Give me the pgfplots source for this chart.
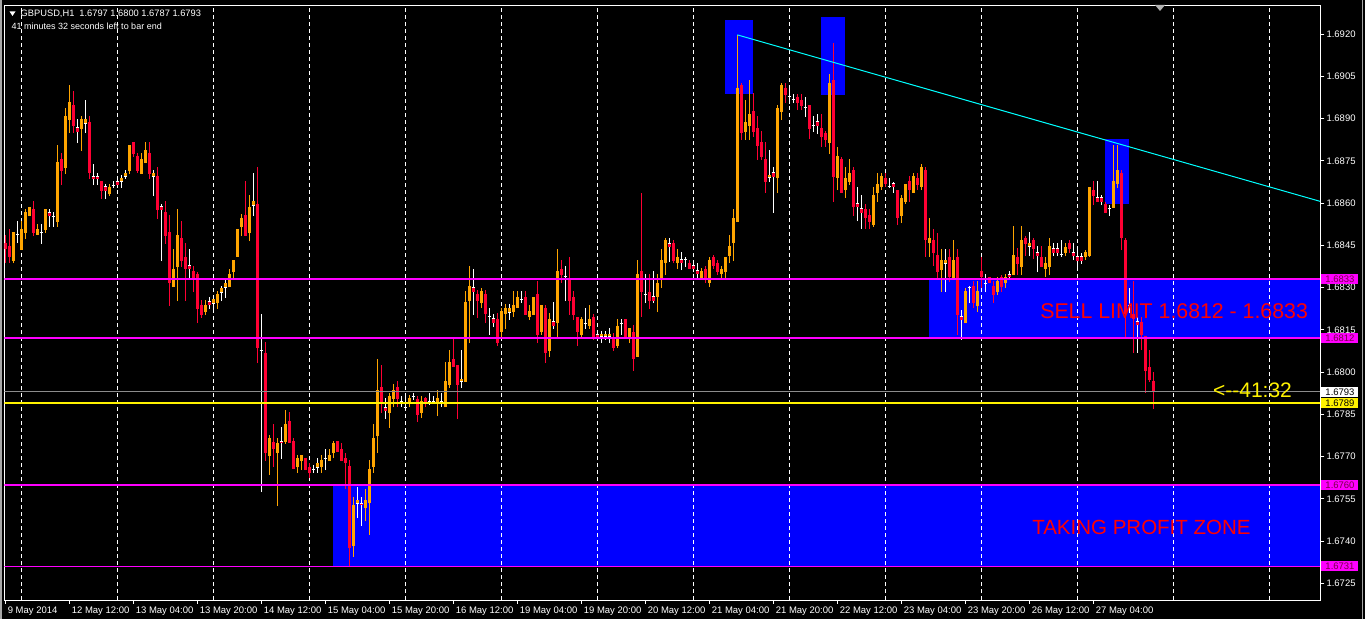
\documentclass[border=0pt]{standalone}
\usepackage{pgfplots}
\pgfplotsset{compat=1.18}
\usepackage{pgfplotstable}
\usepackage{fontspec}
\setmainfont{Liberation Sans}

\definecolor{bull}{RGB}{255,165,0}
\definecolor{bear}{RGB}{255,0,51}
\definecolor{zone}{RGB}{0,0,255}
\definecolor{lvl}{RGB}{255,0,255}
\definecolor{lvltext}{RGB}{120,0,70}
\definecolor{trend}{RGB}{0,255,255}
\definecolor{bidgray}{RGB}{140,140,140}

% GBPUSD H1 candles: bar index, open, high, low, close
\pgfplotstableread{
i o h l c
0 1.68458 1.68487 1.68387 1.68437
1 1.68448 1.68508 1.68387 1.68409
2 1.68394 1.68497 1.68387 1.68497
3 1.68487 1.68536 1.68458 1.68487
4 1.68433 1.68536 1.68433 1.68508
5 1.68494 1.68579 1.68473 1.68568
6 1.68554 1.68586 1.68554 1.68586
7 1.68579 1.68607 1.68483 1.68494
8 1.68487 1.68526 1.68487 1.68508
9 1.68497 1.68526 1.68455 1.68497
10 1.68504 1.68579 1.68494 1.68579
11 1.68568 1.68579 1.68515 1.68554
12 1.68551 1.68568 1.68515 1.68551
13 1.68533 1.68806 1.68515 1.68746
14 1.68757 1.68778 1.68664 1.68714
15 1.68725 1.68938 1.68703 1.68909
16 1.68895 1.69019 1.68849 1.68959
17 1.68948 1.68998 1.68849 1.68874
18 1.68867 1.68899 1.68813 1.68852
19 1.68863 1.68909 1.68785 1.68899
20 1.68884 1.68966 1.68849 1.68899
21 1.68888 1.68909 1.68686 1.68707
22 1.68696 1.68739 1.68664 1.68686
23 1.68696 1.68707 1.68664 1.68686
24 1.68678 1.68678 1.68615 1.68643
25 1.68657 1.68668 1.68615 1.68643
26 1.68632 1.68668 1.68625 1.68657
27 1.68664 1.68678 1.68654 1.68664
28 1.68678 1.68693 1.68654 1.68664
29 1.68675 1.68700 1.68654 1.68689
30 1.68693 1.68717 1.68686 1.68707
31 1.68714 1.68806 1.68703 1.68806
32 1.68817 1.68817 1.68764 1.68774
33 1.68767 1.68778 1.68707 1.68714
34 1.68703 1.68778 1.68703 1.68757
35 1.68742 1.68817 1.68742 1.68788
36 1.68778 1.68817 1.68686 1.68703
37 1.68693 1.68717 1.68625 1.68707
38 1.68696 1.68728 1.68544 1.68575
39 1.68586 1.68597 1.68394 1.68575
40 1.68568 1.68607 1.68455 1.68483
41 1.68497 1.68558 1.68235 1.68316
42 1.68302 1.68437 1.68302 1.68366
43 1.68373 1.68579 1.68252 1.68487
44 1.68476 1.68536 1.68373 1.68394
45 1.68409 1.68458 1.68252 1.68366
46 1.68377 1.68437 1.68334 1.68366
47 1.68359 1.68377 1.68284 1.68334
48 1.68348 1.68355 1.68174 1.68224
49 1.68238 1.68256 1.68192 1.68203
50 1.68213 1.68256 1.68203 1.68238
51 1.68249 1.68267 1.68224 1.68238
52 1.68245 1.68274 1.68224 1.68260
53 1.68245 1.68288 1.68224 1.68277
54 1.68284 1.68306 1.68252 1.68299
55 1.68302 1.68331 1.68263 1.68316
56 1.68302 1.68366 1.68302 1.68348
57 1.68355 1.68398 1.68331 1.68398
58 1.68409 1.68508 1.68409 1.68508
59 1.68515 1.68561 1.68483 1.68547
60 1.68558 1.68678 1.68483 1.68483
61 1.68494 1.68629 1.68465 1.68586
62 1.68593 1.68707 1.68554 1.68607
63 1.68597 1.68728 1.68032 1.68086
64 1.68078 1.68206 1.67574 1.68078
65 1.68068 1.68107 1.67684 1.67713
66 1.67702 1.67777 1.67635 1.67766
67 1.67752 1.67816 1.67663 1.67727
68 1.67713 1.67766 1.67525 1.67748
69 1.67752 1.67805 1.67692 1.67748
70 1.67752 1.67865 1.67745 1.67816
71 1.67826 1.67858 1.67748 1.67748
72 1.67755 1.67766 1.67656 1.67656
73 1.67663 1.67706 1.67642 1.67695
74 1.67684 1.67706 1.67652 1.67706
75 1.67695 1.67695 1.67652 1.67652
76 1.67663 1.67677 1.67624 1.67642
77 1.67656 1.67670 1.67642 1.67656
78 1.67663 1.67695 1.67642 1.67677
79 1.67663 1.67706 1.67642 1.67688
80 1.67695 1.67727 1.67652 1.67695
81 1.67684 1.67727 1.67684 1.67706
82 1.67713 1.67755 1.67695 1.67748
83 1.67755 1.67755 1.67716 1.67716
84 1.67727 1.67748 1.67684 1.67684
85 1.67695 1.67713 1.67585 1.67677
86 1.67667 1.67688 1.67308 1.67376
87 1.67383 1.67557 1.67344 1.67528
88 1.67535 1.67592 1.67482 1.67546
89 1.67535 1.67557 1.67454 1.67528
90 1.67518 1.67585 1.67471 1.67546
91 1.67535 1.67688 1.67422 1.67656
92 1.67663 1.67816 1.67642 1.67766
93 1.67773 1.68047 1.67713 1.67936
94 1.67947 1.68025 1.67855 1.67894
95 1.67876 1.67908 1.67834 1.67862
96 1.67855 1.67926 1.67802 1.67915
97 1.67905 1.67958 1.67876 1.67936
98 1.67947 1.67968 1.67876 1.67905
99 1.67897 1.67915 1.67876 1.67890
100 1.67876 1.67912 1.67865 1.67876
101 1.67890 1.67919 1.67876 1.67908
102 1.67912 1.67926 1.67901 1.67912
103 1.67905 1.67915 1.67823 1.67848
104 1.67855 1.67915 1.67837 1.67897
105 1.67908 1.67912 1.67876 1.67890
106 1.67897 1.67926 1.67883 1.67890
107 1.67897 1.67915 1.67887 1.67897
108 1.67887 1.67936 1.67844 1.67908
109 1.67897 1.67926 1.67876 1.67887
110 1.67876 1.68036 1.67876 1.67968
111 1.67954 1.68078 1.67944 1.68036
112 1.68047 1.68121 1.68018 1.68018
113 1.68025 1.68025 1.67834 1.67954
114 1.67965 1.68078 1.67944 1.67976
115 1.67965 1.68288 1.67965 1.68249
116 1.68252 1.68377 1.68103 1.68306
117 1.68299 1.68366 1.68203 1.68284
118 1.68277 1.68291 1.68192 1.68252
119 1.68245 1.68299 1.68228 1.68288
120 1.68277 1.68291 1.68174 1.68206
121 1.68196 1.68228 1.68132 1.68196
122 1.68189 1.68206 1.68160 1.68174
123 1.68189 1.68210 1.68093 1.68103
124 1.68142 1.68228 1.68125 1.68217
125 1.68206 1.68242 1.68153 1.68228
126 1.68213 1.68242 1.68185 1.68228
127 1.68213 1.68288 1.68196 1.68238
128 1.68228 1.68288 1.68228 1.68267
129 1.68256 1.68288 1.68245 1.68256
130 1.68267 1.68288 1.68203 1.68203
131 1.68196 1.68238 1.68185 1.68217
132 1.68203 1.68267 1.68203 1.68267
133 1.68277 1.68323 1.68103 1.68132
134 1.68142 1.68238 1.68132 1.68238
135 1.68228 1.68238 1.68032 1.68068
136 1.68075 1.68210 1.68054 1.68189
137 1.68178 1.68249 1.68153 1.68164
138 1.68174 1.68437 1.68125 1.68359
139 1.68366 1.68398 1.68316 1.68345
140 1.68338 1.68377 1.68252 1.68338
141 1.68327 1.68409 1.68203 1.68252
142 1.68267 1.68288 1.68185 1.68203
143 1.68196 1.68196 1.68093 1.68142
144 1.68132 1.68196 1.68125 1.68189
145 1.68174 1.68228 1.68153 1.68174
146 1.68164 1.68238 1.68153 1.68189
147 1.68196 1.68206 1.68114 1.68125
148 1.68135 1.68139 1.68114 1.68125
149 1.68125 1.68146 1.68103 1.68135
150 1.68125 1.68146 1.68114 1.68135
151 1.68125 1.68157 1.68103 1.68135
152 1.68125 1.68139 1.68075 1.68086
153 1.68093 1.68189 1.68086 1.68164
154 1.68174 1.68189 1.68132 1.68174
155 1.68189 1.68189 1.68125 1.68125
156 1.68125 1.68157 1.68103 1.68157
157 1.68142 1.68167 1.68004 1.68047
158 1.68054 1.68398 1.68054 1.68348
159 1.68359 1.68636 1.68196 1.68284
160 1.68277 1.68348 1.68245 1.68277
161 1.68284 1.68348 1.68224 1.68252
162 1.68267 1.68359 1.68245 1.68252
163 1.68267 1.68348 1.68213 1.68316
164 1.68334 1.68437 1.68299 1.68398
165 1.68387 1.68476 1.68345 1.68469
166 1.68458 1.68476 1.68391 1.68444
167 1.68458 1.68469 1.68387 1.68394
168 1.68387 1.68437 1.68366 1.68409
169 1.68398 1.68426 1.68362 1.68387
170 1.68398 1.68409 1.68373 1.68398
171 1.68387 1.68398 1.68366 1.68366
172 1.68377 1.68387 1.68355 1.68366
173 1.68359 1.68387 1.68334 1.68348
174 1.68334 1.68370 1.68334 1.68359
175 1.68366 1.68377 1.68316 1.68327
176 1.68316 1.68409 1.68302 1.68398
177 1.68409 1.68416 1.68366 1.68377
178 1.68387 1.68398 1.68345 1.68355
179 1.68348 1.68377 1.68334 1.68366
180 1.68355 1.68409 1.68334 1.68409
181 1.68412 1.68487 1.68387 1.68448
182 1.68458 1.68579 1.68394 1.68547
183 1.68533 1.69197 1.68533 1.69009
184 1.69019 1.69026 1.68824 1.68849
185 1.68852 1.68966 1.68824 1.68888
186 1.68874 1.69037 1.68824 1.68916
187 1.68927 1.68991 1.68835 1.68852
188 1.68867 1.68909 1.68753 1.68803
189 1.68817 1.68856 1.68753 1.68764
190 1.68757 1.68817 1.68636 1.68675
191 1.68689 1.68788 1.68675 1.68700
192 1.68707 1.68728 1.68565 1.68693
193 1.68689 1.68948 1.68636 1.68938
194 1.68923 1.69026 1.68895 1.69019
195 1.69009 1.69026 1.68955 1.68984
196 1.68977 1.69005 1.68952 1.68977
197 1.68966 1.68987 1.68955 1.68966
198 1.68977 1.68987 1.68930 1.68955
199 1.68966 1.68987 1.68930 1.68945
200 1.68938 1.68977 1.68906 1.68938
201 1.68948 1.68948 1.68828 1.68863
202 1.68877 1.68909 1.68852 1.68877
203 1.68888 1.68916 1.68845 1.68874
204 1.68867 1.68916 1.68799 1.68835
205 1.68849 1.68856 1.68799 1.68824
206 1.68813 1.69058 1.68774 1.69026
207 1.69037 1.69168 1.68604 1.68693
208 1.68689 1.68799 1.68646 1.68767
209 1.68757 1.68764 1.68636 1.68636
210 1.68646 1.68728 1.68618 1.68689
211 1.68675 1.68757 1.68664 1.68707
212 1.68717 1.68728 1.68554 1.68586
213 1.68597 1.68657 1.68536 1.68586
214 1.68579 1.68629 1.68508 1.68565
215 1.68579 1.68597 1.68508 1.68547
216 1.68558 1.68579 1.68508 1.68533
217 1.68522 1.68657 1.68515 1.68629
218 1.68636 1.68707 1.68604 1.68668
219 1.68657 1.68707 1.68646 1.68696
220 1.68689 1.68707 1.68657 1.68668
221 1.68657 1.68689 1.68654 1.68657
222 1.68668 1.68675 1.68636 1.68657
223 1.68646 1.68646 1.68522 1.68547
224 1.68554 1.68629 1.68529 1.68618
225 1.68604 1.68668 1.68597 1.68668
226 1.68678 1.68696 1.68604 1.68646
227 1.68636 1.68707 1.68636 1.68696
228 1.68689 1.68707 1.68646 1.68664
229 1.68657 1.68739 1.68646 1.68728
230 1.68717 1.68728 1.68409 1.68469
231 1.68458 1.68547 1.68409 1.68476
232 1.68469 1.68508 1.68377 1.68423
233 1.68416 1.68494 1.68327 1.68355
234 1.68362 1.68437 1.68284 1.68398
235 1.68387 1.68437 1.68284 1.68398
236 1.68409 1.68437 1.68320 1.68338
237 1.68327 1.68469 1.68327 1.68398
238 1.68409 1.68437 1.68132 1.68203
239 1.68196 1.68220 1.68114 1.68185
240 1.68174 1.68299 1.68174 1.68288
241 1.68299 1.68306 1.68245 1.68299
242 1.68306 1.68323 1.68228 1.68245
243 1.68235 1.68323 1.68213 1.68288
244 1.68359 1.68409 1.68299 1.68338
245 1.68316 1.68348 1.68284 1.68316
246 1.68338 1.68338 1.68316 1.68316
247 1.68306 1.68323 1.68245 1.68274
248 1.68284 1.68338 1.68274 1.68323
249 1.68338 1.68345 1.68284 1.68302
250 1.68316 1.68348 1.68299 1.68338
251 1.68348 1.68359 1.68327 1.68338
252 1.68345 1.68519 1.68345 1.68416
253 1.68409 1.68441 1.68345 1.68384
254 1.68373 1.68519 1.68345 1.68469
255 1.68476 1.68483 1.68412 1.68455
256 1.68444 1.68497 1.68412 1.68458
257 1.68469 1.68476 1.68402 1.68437
258 1.68426 1.68448 1.68355 1.68412
259 1.68409 1.68448 1.68373 1.68373
260 1.68366 1.68409 1.68338 1.68387
261 1.68373 1.68476 1.68345 1.68448
262 1.68437 1.68458 1.68412 1.68423
263 1.68437 1.68458 1.68412 1.68423
264 1.68416 1.68469 1.68409 1.68416
265 1.68423 1.68458 1.68412 1.68444
266 1.68458 1.68469 1.68423 1.68437
267 1.68426 1.68458 1.68398 1.68412
268 1.68409 1.68433 1.68373 1.68394
269 1.68409 1.68423 1.68384 1.68394
270 1.68409 1.68433 1.68398 1.68426
271 1.68412 1.68657 1.68409 1.68657
272 1.68646 1.68678 1.68593 1.68625
273 1.68618 1.68678 1.68604 1.68604
274 1.68618 1.68629 1.68593 1.68604
275 1.68597 1.68604 1.68565 1.68565
276 1.68579 1.68593 1.68554 1.68579
277 1.68583 1.68806 1.68583 1.68678
278 1.68668 1.68806 1.68654 1.68717
279 1.68707 1.68717 1.68433 1.68476
280 1.68469 1.68476 1.68118 1.68206
281 1.68238 1.68299 1.68210 1.68238
282 1.68206 1.68323 1.68068 1.68189
283 1.68178 1.68196 1.68068 1.68167
284 1.68178 1.68196 1.68078 1.68132
285 1.68128 1.68128 1.67926 1.68004
286 1.68018 1.68078 1.67965 1.67972
287 1.6797 1.6800 1.6787 1.6793
}\candles

\begin{document}
\begin{tikzpicture}
\useasboundingbox (0,0) rectangle (1365pt,619pt);
\fill[black] (0,0) rectangle (1365pt,619pt);
\fill[gray!70] (0,0) rectangle (2pt,619pt);
\draw[gray!70, line width=1pt] (1362.5pt,0) -- (1362.5pt,619pt);
\begin{axis}[
  at={(4.5pt,19pt)}, anchor=south west,
  scale only axis, width=1316pt, height=595pt,
  xmin=-0.2, xmax=328.8, ymin=1.67191, ymax=1.69303,
  axis line style={white, line width=0.8pt},
  tick style={white, line width=0.8pt},
  tick align=outside, major tick length=4pt,
  xtick pos=left, ytick pos=right, yticklabel pos=right,
  xtick={0,16,32,48,64,80,96,112,128,144,160,176,192,208,224,240,256,272},
  xticklabels={9 May 2014,12 May 12:00,13 May 04:00,13 May 20:00,14 May 12:00,
    15 May 04:00,15 May 20:00,16 May 12:00,19 May 04:00,19 May 20:00,
    20 May 12:00,21 May 04:00,21 May 20:00,22 May 12:00,23 May 04:00,
    23 May 20:00,26 May 12:00,27 May 04:00},
  ytick={1.6725,1.674,1.6755,1.677,1.6785,1.68,1.6815,1.683,1.6845,1.686,1.6875,1.689,1.6905,1.692},
  yticklabels={1.6725,1.6740,1.6755,1.6770,1.6785,1.6800,1.6815,1.6830,1.6845,1.6860,1.6875,1.6890,1.6905,1.6920},
  tick label style={white, font=\fontsize{9.5}{10}\selectfont},
  xticklabel style={anchor=north west, xshift=-1pt, yshift=1pt},
  yticklabel style={anchor=west, xshift=-1.5pt},
]
% zones behind the candles
\addplot[draw=none, fill=zone] coordinates {(81.9,1.6760) (328.8,1.6760) (328.8,1.6731) (81.9,1.6731)} --cycle;
\addplot[draw=none, fill=zone] coordinates {(230.9,1.6833) (328.8,1.6833) (328.8,1.6812) (230.9,1.6812)} --cycle;
\addplot[draw=none, fill=zone] coordinates {(179.9,1.69250) (186.9,1.69250) (186.9,1.68987) (179.9,1.68987)} --cycle;
\addplot[draw=none, fill=zone] coordinates {(203.9,1.69261) (209.9,1.69261) (209.9,1.68984) (203.9,1.68984)} --cycle;
\addplot[draw=none, fill=zone] coordinates {(274.9,1.68828) (280.9,1.68828) (280.9,1.68597) (274.9,1.68597)} --cycle;

% dashed vertical grid
\pgfplotsinvokeforeach{4,28,52,76,100,124,148,172,196,220,244,268,292,316}{
  \draw[white, line width=0.8pt, dash pattern=on 4pt off 3pt] (axis cs:#1,1.67191) -- (axis cs:#1,1.69303);
}

% wicks
\addplot[bull, line width=1pt, quiver={u=0, v=\thisrow{h}-\thisrow{l}},
  x filter/.expression={\thisrow{c}>\thisrow{o} ? x : nan}] table[x=i, y=l] {\candles};
\addplot[bear, line width=1pt, quiver={u=0, v=\thisrow{h}-\thisrow{l}},
  x filter/.expression={\thisrow{c}<\thisrow{o} ? x : nan}] table[x=i, y=l] {\candles};
\addplot[white, line width=1pt, quiver={u=0, v=\thisrow{h}-\thisrow{l}},
  x filter/.expression={\thisrow{c}==\thisrow{o} ? x : nan}] table[x=i, y=l] {\candles};
% bodies
\addplot[bull, line width=3.2pt, quiver={u=0, v=\thisrow{c}-\thisrow{o}},
  x filter/.expression={\thisrow{c}>\thisrow{o} ? x : nan}] table[x=i, y=o] {\candles};
\addplot[bear, line width=3.2pt, quiver={u=0, v=\thisrow{c}-\thisrow{o}},
  x filter/.expression={\thisrow{c}<\thisrow{o} ? x : nan}] table[x=i, y=o] {\candles};
\addplot[white, line width=1pt, quiver={u=0.8, v=0},
  x filter/.expression={\thisrow{c}==\thisrow{o} ? x : nan}] table[x expr=\thisrow{i}-0.4, y=o] {\candles};

% levels
\addplot[lvl, line width=1.6pt] coordinates {(-0.2,1.6833) (328.8,1.6833)};
\addplot[lvl, line width=1.6pt] coordinates {(-0.2,1.6812) (328.8,1.6812)};
\addplot[lvl, line width=1.6pt] coordinates {(-0.2,1.6760) (328.8,1.6760)};
\addplot[lvl, line width=1.6pt] coordinates {(-0.2,1.6731) (328.8,1.6731)};
\addplot[bidgray, line width=1pt] coordinates {(-0.2,1.6793) (328.8,1.6793)};
\addplot[yellow, line width=1.6pt] coordinates {(-0.2,1.6789) (328.8,1.6789)};
% trend line
\addplot[trend, line width=1pt] coordinates {(183,1.69197) (328.7,1.68606)};

\node[anchor=west, text=red, inner sep=0, font=\fontsize{21.3}{24}\selectfont] at (axis cs:258.7,1.68217) {SELL LIMIT 1.6812 - 1.6833};
\node[anchor=west, text=red, inner sep=0, font=\fontsize{20.5}{24}\selectfont] at (axis cs:256.7,1.67447) {TAKING PROFIT ZONE};
\node[anchor=west, text=yellow, inner sep=0, font=\fontsize{21}{22}\selectfont] at (axis cs:301.9,1.67936) {<{-}{-}41:32};

\coordinate (A) at (axis cs:328.8,1.6833);
\coordinate (B) at (axis cs:328.8,1.6812);
\coordinate (C) at (axis cs:328.8,1.6760);
\coordinate (D) at (axis cs:328.8,1.6731);
\coordinate (E) at (axis cs:328.8,1.6793);
\coordinate (F) at (axis cs:328.8,1.6789);
\end{axis}

\tikzset{pricebox/.style={anchor=west, inner sep=0, minimum width=37pt, minimum height=10pt, font=\fontsize{9.5}{10}\selectfont}}
\node[pricebox, fill=lvl, text=lvltext] at ([xshift=0.8pt]A) {1.6833};
\node[pricebox, fill=lvl, text=lvltext] at ([xshift=0.8pt]B) {1.6812};
\node[pricebox, fill=lvl, text=lvltext] at ([xshift=0.8pt]C) {1.6760};
\node[pricebox, fill=lvl, text=lvltext] at ([xshift=0.8pt]D) {1.6731};
\node[pricebox, fill=white, text=black] at ([xshift=0.8pt]E) {1.6793};
\node[pricebox, fill=yellow, text=black] at ([xshift=0.8pt]F) {1.6789};

% header
\fill[white] (9.5pt,607.5pt) -- (15.5pt,607.5pt) -- (12.5pt,603pt) -- cycle;
\node[anchor=west, text=white, inner sep=0, font=\fontsize{9.3}{10}\selectfont] at (20.5pt,605pt) {GBPUSD,H1\hspace{5pt}1.6797 1.6800 1.6787 1.6793};
\node[anchor=west, text=white, inner sep=0, font=\fontsize{9}{10}\selectfont] at (11.5pt,593pt) {41 minutes 32 seconds left to bar end};
\fill[gray!60] (1155pt,614pt) -- (1165pt,614pt) -- (1160pt,608pt) -- cycle;
\end{tikzpicture}
\end{document}
